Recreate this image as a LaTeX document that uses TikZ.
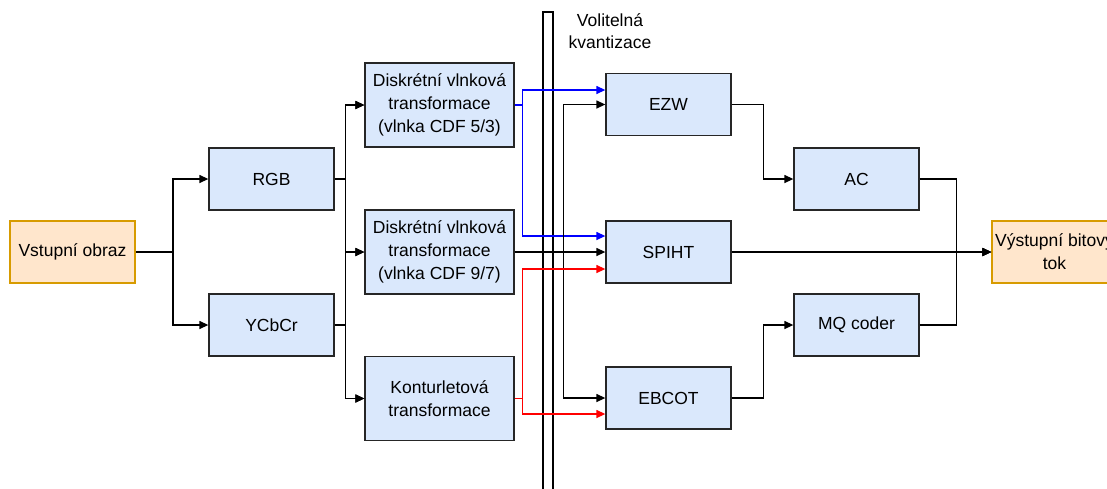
\documentclass[tikz,border=0pt]{standalone}
\usepackage{fontspec}
\setmainfont{Liberation Sans}
\usetikzlibrary{arrows.meta}
\definecolor{boxfill}{HTML}{DAE8FC}
\definecolor{iofill}{HTML}{FFE6CC}
\definecolor{iodraw}{HTML}{D79B00}
\tikzset{
  block/.style={draw=black!85, fill=boxfill, line width=1.3pt, minimum width=125pt,
    minimum height=62pt, align=center, inner sep=2pt, font=\fontsize{17.5}{23}\selectfont},
  wide/.style={block, minimum width=149pt, minimum height=84pt},
  io/.style={block, draw=iodraw, fill=iofill},
  arr/.style={-{Triangle[length=9pt,width=8pt]}, line width=1.3pt},
}
\begin{document}
\begin{tikzpicture}[x=1pt, y=-1pt]
  \useasboundingbox (0,0) rectangle (1107,488);

  % Input and colour spaces
  \node[io] (vstup) at (72.5,252) {Vstupní obraz};
  \node[block] (rgb) at (271.5,179) {RGB};
  \node[block] (ycc) at (271.5,325) {YCbCr};

  % Transforms
  \node[wide] (dwt53) at (439.5,105) {Diskrétní vlnková\\transformace\\(vlnka CDF 5/3)};
  \node[wide] (dwt97) at (439.5,252) {Diskrétní vlnková\\transformace\\(vlnka CDF 9/7)};
  \node[wide] (kont) at (439.5,398.5) {Konturletová\\transformace};

  % Optional quantization
  \draw[line width=1.3pt] (543,495) -- (543,12) -- (553,12) -- (553,495);
  \node[align=center, font=\fontsize{17.5}{22}\selectfont] (kvant) at (610,31) {Volitelná\\kvantizace};

  % Coders
  \node[block] (ezw) at (668.5,104.5) {EZW};
  \node[block] (spiht) at (668.5,252) {SPIHT};
  \node[block] (ebcot) at (668.5,398) {EBCOT};
  \node[block] (ac) at (856.5,179) {AC};
  \node[block] (mq) at (856.5,325) {MQ coder};
  \node[io] (vystup) at (1054.5,252) {Výstupní bitový\\tok};

  % Connectors
  \coordinate (split) at (173,252);
  \draw[line width=1.3pt] (vstup.east) -- (split);
  \draw[arr] (split) |- (rgb.west);
  \draw[arr] (split) |- (ycc.west);
  \foreach \s in {rgb,ycc}
    \foreach \t in {dwt53,dwt97,kont}
      \draw[arr] (\s.east) -- ++(11,0) |- (\t.west);

  \draw[arr, blue] (dwt53.east) -- ++(8,0) |- ([yshift=14.5pt]ezw.west);
  \draw[arr, blue] (dwt53.east) -- ++(8,0) |- ([yshift=16pt]spiht.west);
  \draw[arr] (dwt97.east) -- (spiht.west);
  \draw[arr] (dwt97.east) -- ++(49,0) |- (ezw.west);
  \draw[arr] (dwt97.east) -- ++(49,0) |- (ebcot.west);
  \draw[arr, red] (kont.east) -- ++(8,0) |- ([yshift=-17pt]spiht.west);
  \draw[arr, red] (kont.east) -- ++(8,0) |- ([yshift=-16pt]ebcot.west);

  \draw[arr] (ezw.east) -- ++(32,0) |- (ac.west);
  \draw[arr] (ebcot.east) -- ++(32,0) |- (mq.west);
  \draw[arr] (ac.east) -- ++(37,0) |- (vystup.west);
  \draw[arr] (mq.east) -- ++(37,0) |- (vystup.west);
  \draw[arr] (spiht.east) -- (vystup.west);
\end{tikzpicture}
\end{document}
